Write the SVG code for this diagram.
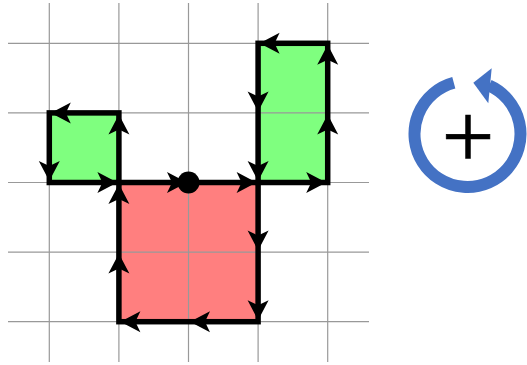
<svg xmlns="http://www.w3.org/2000/svg" width="527" height="365" viewBox="0 0 527 365">
  <defs>
    <style>
      .grid line { stroke: #999999; stroke-width: 1.2; }
      .edge { fill: none; stroke: #000000; stroke-width: 5.5; stroke-linejoin: miter; }
      .g { fill: #00ff00; fill-opacity: 0.5; }
      .r { fill: #ff0000; fill-opacity: 0.5; }
      .ah { fill: #000000; }
    </style>
    <path id="ah" d="M0,0 L-20,-10.5 L-15,0 L-20,10.5 Z"/>
  </defs>
  <rect width="527" height="365" fill="#ffffff"/>

  <g id="fills">
    <rect id="green-left" class="g" x="49.3" y="112.9" width="69.6" height="69.6"/>
    <rect id="red-square" class="r" x="118.9" y="182.5" width="139.2" height="139.2"/>
    <rect id="green-right" class="g" x="258.1" y="43.3" width="69.6" height="139.2"/>
  </g>

  <g id="grid" class="grid">
    <line x1="49.3" y1="3" x2="49.3" y2="362"/>
    <line x1="118.9" y1="3" x2="118.9" y2="362"/>
    <line x1="188.5" y1="3" x2="188.5" y2="362"/>
    <line x1="258.1" y1="3" x2="258.1" y2="362"/>
    <line x1="327.7" y1="3" x2="327.7" y2="362"/>
    <line x1="8" y1="43.3" x2="369" y2="43.3"/>
    <line x1="8" y1="112.9" x2="369" y2="112.9"/>
    <line x1="8" y1="182.5" x2="369" y2="182.5"/>
    <line x1="8" y1="252.1" x2="369" y2="252.1"/>
    <line x1="8" y1="321.7" x2="369" y2="321.7"/>
  </g>

  <g id="connectors">
    <rect class="edge" x="49.3" y="112.9" width="69.6" height="69.6"/>
    <rect class="edge" x="118.9" y="182.5" width="139.2" height="139.2"/>
    <rect class="edge" x="258.1" y="43.3" width="69.6" height="139.2"/>
    <g class="ah">
      <!-- left green, counterclockwise -->
      <use href="#ah" transform="translate(117.4,182.5)"/>
      <use href="#ah" transform="translate(118.9,114.4) rotate(-90)"/>
      <use href="#ah" transform="translate(50.8,112.9) rotate(180)"/>
      <use href="#ah" transform="translate(49.3,181) rotate(90)"/>
      <!-- red square, clockwise -->
      <use href="#ah" transform="translate(187,182.5)"/>
      <use href="#ah" transform="translate(256.6,182.5)"/>
      <use href="#ah" transform="translate(258.1,250.6) rotate(90)"/>
      <use href="#ah" transform="translate(258.1,320.2) rotate(90)"/>
      <use href="#ah" transform="translate(190,321.7) rotate(180)"/>
      <use href="#ah" transform="translate(120.4,321.7) rotate(180)"/>
      <use href="#ah" transform="translate(118.9,253.6) rotate(-90)"/>
      <use href="#ah" transform="translate(118.9,184) rotate(-90)"/>
      <!-- right green, counterclockwise -->
      <use href="#ah" transform="translate(326.2,182.5)"/>
      <use href="#ah" transform="translate(327.7,114.4) rotate(-90)"/>
      <use href="#ah" transform="translate(327.7,44.8) rotate(-90)"/>
      <use href="#ah" transform="translate(259.6,43.3) rotate(180)"/>
      <use href="#ah" transform="translate(258.1,111.4) rotate(90)"/>
      <use href="#ah" transform="translate(258.1,181) rotate(90)"/>
    </g>
  </g>

  <g id="dot">
    <circle cx="188.5" cy="182.5" r="11" fill="#000000"/>
  </g>

  <g id="orientation-icon">
    <path d="M453.8,82.8 A53,53 0 1 0 489.1,85.6" fill="none" stroke="#4472c4" stroke-width="12"/>
    <polygon points="473.3,82.7 491.7,68.3 488.3,103.3" fill="#4472c4"/>
    <text x="468" y="168.3" text-anchor="middle" font-family="Liberation Serif, serif" font-size="94" fill="#000000" stroke="#000000" stroke-width="0.6">+</text>
  </g>
</svg>
